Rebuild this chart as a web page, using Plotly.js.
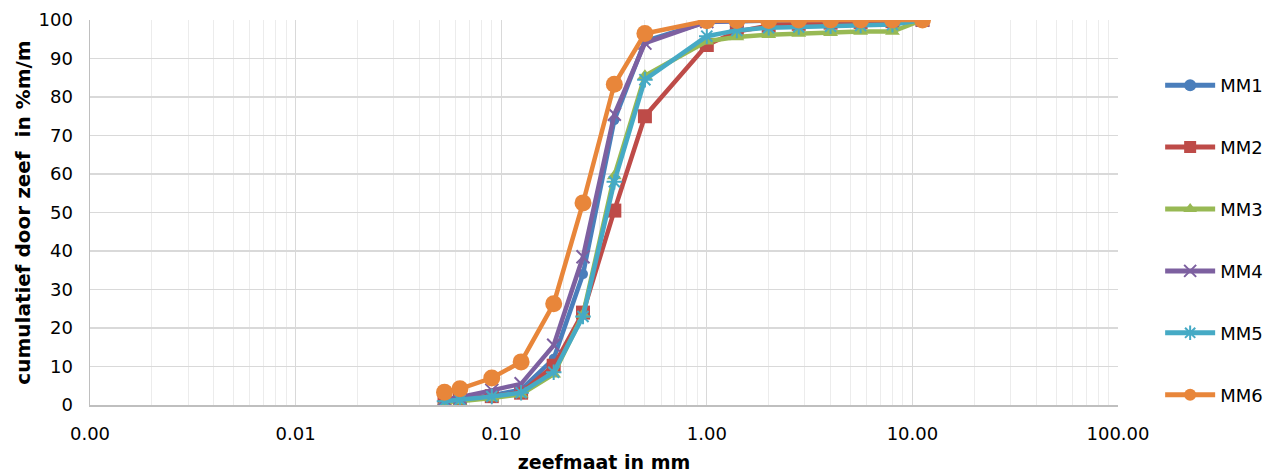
<!DOCTYPE html>
<html>
<head>
<meta charset="utf-8">
<script src="https://cdn.plot.ly/plotly-3.0.1.min.js"></script>
<style>html,body{margin:0;padding:0;background:#fff;}#chart{width:1275px;height:473px;}</style>
</head>
<body>
<div id="chart"></div>
<script>
var sieveSizes = [0.053, 0.063, 0.09, 0.125, 0.18, 0.25, 0.355, 0.5, 1.0, 1.4, 2.0, 2.8, 4.0, 5.6, 8.0, 11.2];
var seriesNames = ["MM1", "MM2", "MM3", "MM4", "MM5", "MM6"];
var mm1 = [1.2, 1.5, 2.5, 4.0, 12.0, 34.0, 74.0, 94.5, 99.5, 99.7, 99.8, 99.8, 99.9, 99.9, 99.9, 100];
var mm2 = [1.3, 1.6, 2.3, 3.2, 10.2, 24.0, 50.5, 75.0, 93.5, 97.0, 98.5, 99.0, 99.3, 99.5, 99.7, 100];
var mm3 = [0.8, 1.0, 1.8, 2.8, 8.0, 23.5, 59.5, 85.5, 94.5, 95.6, 96.2, 96.5, 96.7, 97.0, 97.0, 100];
var mm4 = [1.5, 2.0, 3.8, 5.5, 15.5, 38.5, 75.5, 94.0, 99.6, 99.8, 99.9, 100, 100, 100, 100, 100];
var mm5 = [1.0, 1.3, 2.2, 3.2, 8.5, 23.0, 58.0, 84.5, 95.8, 97.3, 98.0, 98.2, 98.4, 98.6, 98.8, 100];
var mm6 = [3.3, 4.2, 7.0, 11.2, 26.3, 52.5, 83.3, 96.5, 99.8, 99.9, 99.9, 100, 100, 100, 100, 100];
var xTickVals = [0.001, 0.01, 0.1, 1, 10, 100];
var xTickText = ["0.00", "0.01", "0.10", "1.00", "10.00", "100.00"];

var values = [mm1, mm2, mm3, mm4, mm5, mm6];
var colors = ["#4A7EBB", "#BE4B48", "#98B954", "#7D60A0", "#46AAC5", "#E8863A"];
var symbols = ["circle", "square", "triangle-up", "x-thin-open", "asterisk-open", "circle"];
var sizes = [10, 14, 13, 13, 13, 17];

var traces = values.map(function (v, i) {
  var open = symbols[i].indexOf("open") >= 0;
  return {
    x: sieveSizes, y: v, name: seriesNames[i], type: "scatter", mode: "lines+markers",
    legendgroup: "g" + i,
    line: {color: colors[i], width: 4.5},
    marker: {symbol: symbols[i], size: sizes[i], color: colors[i],
             line: {color: colors[i], width: open ? 2 : 0}}
  };
});

var font = "DejaVu Sans, Verdana, sans-serif";
var layout = {
  width: 1275, height: 473,
  margin: {l: 90, r: 157, t: 20, b: 68, autoexpand: false},
  paper_bgcolor: "#fff", plot_bgcolor: "#fff",
  font: {family: font, size: 18, color: "#000"},
  showlegend: true,
  legend: {x: 1.041, xanchor: "left", y: 0.4286, yanchor: "middle", tracegroupgap: 35.5,
           traceorder: "grouped", itemwidth: 50, itemsizing: "constant",
           font: {family: font, size: 18, color: "#000"}},
  xaxis: {
    type: "log", range: [-3, 2], tickvals: xTickVals, ticktext: xTickText,
    showgrid: true, gridcolor: "#d9d9d9", gridwidth: 1.3,
    minor: {showgrid: true, gridcolor: "#ececec", gridwidth: 1, dtick: "D1", ticks: ""},
    showline: true, linecolor: "#bfbfbf", linewidth: 1.5, zeroline: false,
    ticks: "", ticklabelstandoff: 12,
    title: {text: "<b>zeefmaat in mm</b>", font: {family: font, size: 19}, standoff: 12}
  },
  yaxis: {
    range: [0, 100], dtick: 10, showgrid: true, gridcolor: "#d9d9d9", gridwidth: 1.3,
    showline: true, linecolor: "#bfbfbf", linewidth: 1.5, zeroline: false,
    ticks: "", ticklabelstandoff: 12,
    title: {text: "<b>cumulatief door zeef  in %m/m</b>", font: {family: font, size: 20}, standoff: 2}
  }
};

Plotly.newPlot("chart", traces, layout, {displayModeBar: false, staticPlot: true});
</script>
</body>
</html>
